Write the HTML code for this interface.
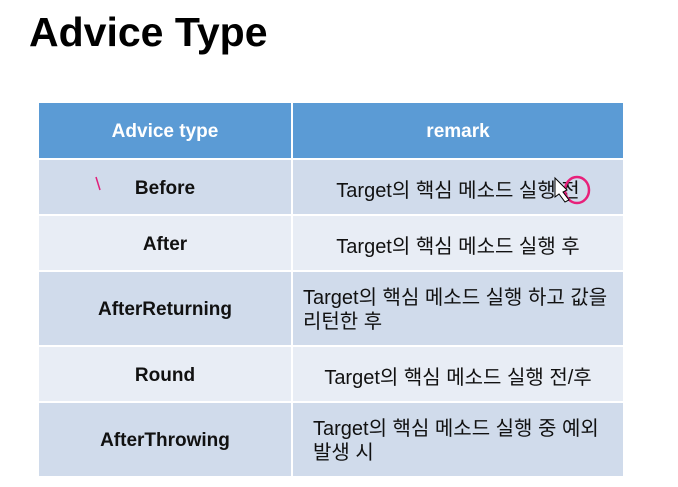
<!DOCTYPE html>
<html><head><meta charset="utf-8"><style>
body{margin:0;width:678px;height:487px;background:#fff;position:relative;overflow:hidden;font-family:"Liberation Sans","Noto Sans CJK KR",sans-serif;}
.t{position:absolute;left:29px;top:9px;font-size:41px;font-weight:bold;color:#000;}
.c{position:absolute;display:flex;align-items:center;justify-content:center;text-align:center;font-size:20px;color:#111;box-sizing:border-box;padding-top:3px;font-family:"Liberation Sans Narrow","Liberation Sans","Noto Sans CJK KR",sans-serif;}
.h{background:#5b9bd5;color:#fff;font-weight:bold;}
.o{background:#d0dbeb;}
.e{background:#e8edf5;}
.l{left:39px;width:252px;font-weight:bold;font-size:19px;}
.r{left:293px;width:330px;}
.r2{justify-content:flex-start;text-align:left;padding-left:10px;line-height:24px;}
</style></head><body>
<div class="t">Advice Type</div>
<div class="c h l" style="top:103px;height:55px">Advice type</div>
<div class="c h r" style="top:103px;height:55px;font-weight:bold;font-size:19px">remark</div>

<div class="c o l" style="top:160px;height:54px">Before</div>
<div class="c o r" style="top:160px;height:54px">Target의 핵심 메소드 실행 전</div>
<div class="c e l" style="top:216px;height:54px">After</div>
<div class="c e r" style="top:216px;height:54px">Target의 핵심 메소드 실행 후</div>
<div class="c o l" style="top:272px;height:73px">AfterReturning</div>
<div class="c o r r2" style="top:272px;height:73px">Target의 핵심 메소드 실행 하고 값을<br>리턴한 후</div>
<div class="c e l" style="top:347px;height:54px">Round</div>
<div class="c e r" style="top:347px;height:54px">Target의 핵심 메소드 실행 전/후</div>
<div class="c o l" style="top:403px;height:73px">AfterThrowing</div>
<div class="c o r r2" style="top:403px;height:73px;padding-left:20px">Target의 핵심 메소드 실행 중 예외<br>발생 시</div>

<svg style="position:absolute;left:0;top:0" width="678" height="487">
<path d="M96 177 L100 190" stroke="#e0207a" stroke-width="1.5" fill="none"/>
<ellipse cx="577" cy="190" rx="12" ry="13" stroke="#e8207a" stroke-width="2.5" fill="none"/>
<path d="M555 178 L567 190 L563 192 L569 200 L565 202 L559 194 L555 197 Z" fill="#fff" stroke="#000" stroke-width="1"/>
</svg>
</body></html>
